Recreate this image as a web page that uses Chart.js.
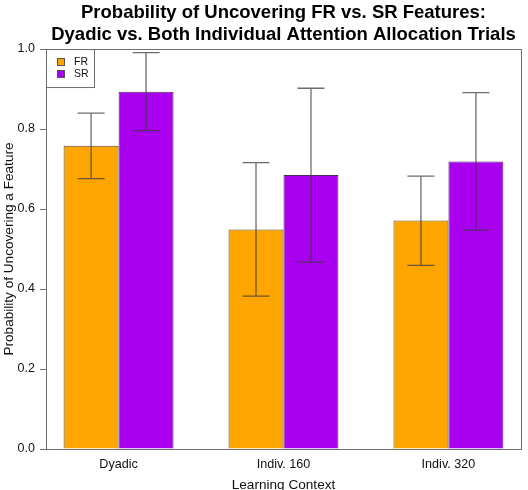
<!DOCTYPE html>
<html>
<head>
<meta charset="utf-8">
<script src="https://cdn.jsdelivr.net/npm/chart.js@4"></script>
<style>
html, body { margin: 0; padding: 0; background: #fff; }
</style>
</head>
<body>
<canvas id="chart" width="528" height="490"></canvas>
<script>
// ---------------- Data ----------------
const categories = ["Dyadic", "Indiv. 160", "Indiv. 320"];
const seriesNames = ["FR", "SR"];

const frMeans = [0.758, 0.549, 0.571];
const frLower = [0.676, 0.382, 0.459];
const frUpper = [0.840, 0.716, 0.682];

const srMeans = [0.893, 0.685, 0.719];
const srLower = [0.796, 0.467, 0.547];
const srUpper = [0.991, 0.902, 0.891];

const yTicks = [0, 0.2, 0.4, 0.6, 0.8, 1.0];

const titleLines = [
    "Probability of Uncovering FR vs. SR Features:",
    "Dyadic vs. Both Individual Attention Allocation Trials"
];

const FONT = "'Liberation Sans', Arial, Helvetica, sans-serif";

// ---------------- Plugins ----------------
// error bars from the lower/upper arrays, placed with the chart's own y scale
const errorBars = {
    id: "errorBars",
    afterDatasetsDraw(chart) {
        const ctx = chart.ctx;
        const y = chart.scales.y;
        ctx.save();
        ctx.strokeStyle = "rgba(60,60,60,0.75)";
        ctx.lineWidth = 1.3;
        chart.data.datasets.forEach((ds, i) => {
            chart.getDatasetMeta(i).data.forEach((bar, j) => {
                const top = y.getPixelForValue(ds.upper[j]);
                const bot = y.getPixelForValue(ds.lower[j]);
                const half = 13.5;
                ctx.beginPath();
                ctx.moveTo(bar.x, top);
                ctx.lineTo(bar.x, bot);
                ctx.moveTo(bar.x - half, top);
                ctx.lineTo(bar.x + half, top);
                ctx.moveTo(bar.x - half, bot);
                ctx.lineTo(bar.x + half, bot);
                ctx.stroke();
            });
        });
        ctx.restore();
    }
};

// frame around the plot + boxed legend top-left
const boxAndLegend = {
    id: "boxAndLegend",
    afterDraw(chart) {
        const ctx = chart.ctx;
        const a = chart.chartArea;
        ctx.save();
        ctx.strokeStyle = "#6e6e6e";
        ctx.lineWidth = 1;
        ctx.strokeRect(a.left + 0.5, a.top + 0.5, a.right - a.left, a.bottom - a.top);

        ctx.strokeRect(a.left + 0.5, a.top + 0.5, 48, 38);
        ctx.font = "10.5px " + FONT;
        ctx.textBaseline = "middle";
        chart.data.datasets.forEach((ds, i) => {
            const cy = a.top + 13 + i * 12;
            ctx.fillStyle = ds.backgroundColor;
            ctx.fillRect(a.left + 11, cy - 4, 8, 8);
            ctx.strokeStyle = "#555";
            ctx.strokeRect(a.left + 11.5, cy - 3.5, 7, 7);
            ctx.fillStyle = "#111";
            ctx.fillText(ds.label, a.left + 28, cy + 0.5);
        });
        ctx.restore();
    }
};

// ---------------- Chart ----------------
const ctx = document.getElementById("chart").getContext("2d");

new Chart(ctx, {
    type: "bar",
    data: {
        datasets: [
            {
                label: seriesNames[0],
                data: frMeans.map((v, i) => ({ x: i, y: v })),
                lower: frLower,
                upper: frUpper,
                backgroundColor: "#FFA500",
                borderColor: "#5a4a30",
                borderWidth: 1
            },
            {
                label: seriesNames[1],
                data: srMeans.map((v, i) => ({ x: i, y: v })),
                lower: srLower,
                upper: srUpper,
                backgroundColor: "#AA00F0",
                borderColor: "#4a2a5a",
                borderWidth: 1
            }
        ]
    },
    options: {
        responsive: false,
        devicePixelRatio: 1,
        animation: false,
        categoryPercentage: 2 / 3,
        barPercentage: 1,
        layout: { padding: { left: 0, right: 7, top: 0, bottom: 0 } },
        plugins: {
            legend: { display: false },
            tooltip: { enabled: false },
            title: {
                display: true,
                text: titleLines,
                fullSize: false,
                color: "#000",
                font: { family: FONT, size: 18.5, weight: "bold", lineHeight: 1.19 },
                padding: { top: 2, bottom: 3 }
            }
        },
        scales: {
            x: {
                type: "linear",
                offset: false,
                min: -0.44,
                max: 2.44,
                afterBuildTicks: s => { s.ticks = categories.map((c, i) => ({ value: i })); },
                afterFit: s => { s.height = 41; },
                ticks: {
                    callback: v => categories[v],
                    autoSkip: false,
                    maxRotation: 0,
                    padding: 0,
                    color: "#111",
                    font: { family: FONT, size: 12.6 }
                },
                grid: { display: false },
                border: { display: false },
                title: {
                    display: true,
                    text: "Learning Context",
                    color: "#111",
                    font: { family: FONT, size: 13.6, lineHeight: 0.75 },
                    padding: { top: 0, bottom: 0 }
                }
            },
            y: {
                min: 0,
                max: 1,
                afterBuildTicks: s => { s.ticks = yTicks.map(v => ({ value: v })); },
                afterFit: s => { s.width = 46; },
                ticks: {
                    callback: v => v.toFixed(1),
                    padding: 5,
                    color: "#111",
                    font: { family: FONT, size: 12.5 }
                },
                grid: { drawOnChartArea: false, drawTicks: true, tickLength: 6, color: "#6e6e6e" },
                border: { display: true, color: "#6e6e6e" },
                title: {
                    display: true,
                    text: "Probability of Uncovering a Feature",
                    color: "#111",
                    font: { family: FONT, size: 13.6, lineHeight: 1.2 },
                    padding: { top: 1, bottom: 0 }
                }
            }
        }
    },
    plugins: [errorBars, boxAndLegend]
});
</script>
</body>
</html>
